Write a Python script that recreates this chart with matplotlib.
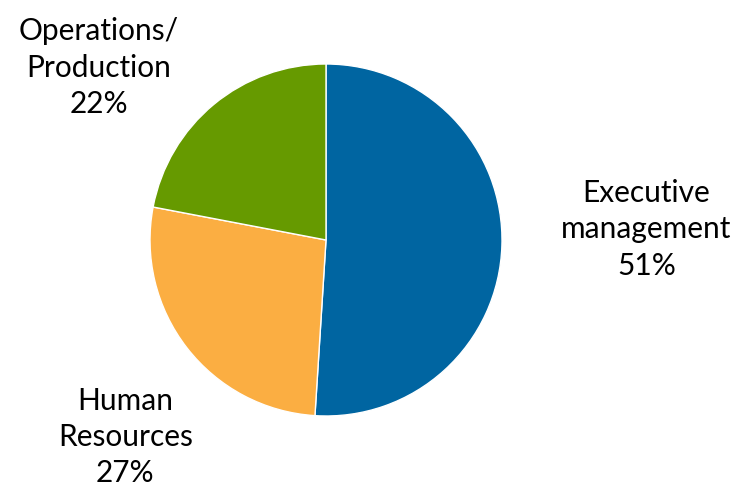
import matplotlib
matplotlib.use('Agg')
import matplotlib.pyplot as plt

# Udział stanowisk
kategorie = ['Executive\nmanagement', 'Human\nResources', 'Operations/\nProduction']
procenty = [51, 27, 22]
kolory = ['#0065A1', '#FBAE42', '#669A00']

plt.rcParams['font.family'] = ['Lato', 'DejaVu Sans']

fig = plt.figure(figsize=(7.34, 4.95), dpi=100)
ax = fig.add_axes([0, 0, 1, 1])

ax.pie(procenty, colors=kolory, startangle=90, counterclock=False, radius=1.0,
       wedgeprops=dict(edgecolor='white', linewidth=1.0))

# promień koła w pikselach, środek koła (pie ustawia własne granice, więc nadpisujemy po nim)
r = 176.0
cx, cy = 326.0, 240.0
ax.set_aspect('auto')
ax.set_xlim(-cx / r, (734 - cx) / r)
ax.set_ylim(-(495 - cy) / r, cy / r)
ax.axis('off')

# pozycje opisów (w jednostkach promienia)
pozycje = [(1.82, 0.06), (-1.14, -1.12), (-1.29, 0.98)]
for nazwa, p, (x, y) in zip(kategorie, procenty, pozycje):
    ax.text(x, y, f'{nazwa}\n{p}%', ha='center', va='center', fontsize=21.5,
            linespacing=1.36, color='black')

fig.savefig('out.png', dpi=100)
